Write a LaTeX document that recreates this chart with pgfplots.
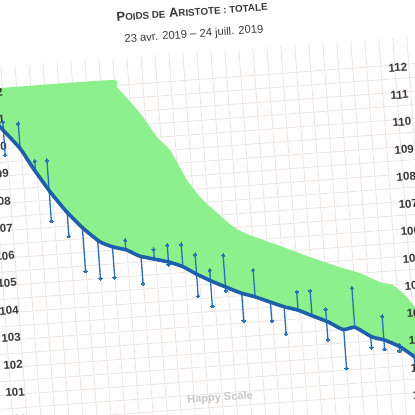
\documentclass[border=0pt]{standalone}
\usepackage{pgfplots}
\usepackage{pgfplotstable}
\pgfplotsset{compat=1.18}
\usepgfplotslibrary{fillbetween}
\usepackage{fontspec}
\setmainfont{Liberation Sans}
\definecolor{gfill}{HTML}{8CF08C}
\definecolor{tline}{HTML}{1E5FAA}
\definecolor{stemc}{HTML}{2A6EB4}
\definecolor{gridc}{HTML}{EDE2E2}
\definecolor{lab}{HTML}{383838}
\newcommand\smc{\fontsize{9.8}{10}\selectfont}

\pgfplotstableread{
X V
-15 111.94
9.9 110.80
28.3 109.96
39.8 109.21
55.1 108.30
70.2 107.52
85.3 106.88
101.2 106.34
113.8 106.12
127.3 105.97
140.1 105.71
167.5 105.43
182.2 105.21
195.3 104.90
211.0 104.58
224.3 104.34
237.2 104.11
251.8 103.92
266.4 103.69
280.9 103.47
293.7 103.32
308.3 103.06
322.8 102.81
337.2 102.49
349.2 102.54
365.3 102.15
378.3 101.99
392.7 101.71
407.0 101.29
440 100.2
}\trend

\pgfplotstableread{
X V
-15 112.21
123.0 112.21
129.5 111.93
150.5 110.93
165.8 110.00
177.7 109.50
192.5 108.36
207.1 107.58
235.3 106.53
251.3 106.18
283.5 105.66
309.6 105.22
338.8 104.77
358.2 104.50
377.6 104.12
390.2 103.98
403.4 103.50
410.6 103.12
440 102.2
}\upper

\pgfplotstableread{
X T M
13.0 110.66 110.97
13.0 110.66 109.76
28.3 109.96 110.87
42.0 109.08 109.46
54.2 108.35 109.45
54.2 108.35 107.23
70.5 107.51 106.63
84.6 106.91 105.31
98.9 106.42 105.01
113.2 106.13 105.00
126.3 105.98 106.33
141.0 105.70 104.71
154.1 105.57 105.92
168.0 105.42 106.04
168.0 105.42 105.33
182.0 105.21 106.02
195.1 104.90 105.62
195.1 104.90 104.10
208.5 104.63 105.01
208.5 104.63 103.70
223.0 104.36 105.52
223.0 104.36 104.22
238.7 104.09 103.08
251.8 103.92 104.90
266.7 103.69 103.00
280.0 103.48 102.48
293.7 103.32 103.99
307.2 103.08 103.99
321.3 102.84 103.28
321.3 102.84 102.17
337.8 102.49 101.07
349.0 102.54 103.98
364.2 102.18 101.76
377.1 102.00 102.87
377.1 102.00 101.67
391.9 101.73 101.78
391.9 101.73 101.56
406.0 101.32 100.85
}\stems

\pgfplotsset{
  common/.style={
    x={(0.9973pt,0.0732pt)}, y={(-2.002pt,27.276pt)},
    disabledatascaling,
    xmin=-15, xmax=440, ymin=98.5, ymax=113,
    axis line style={draw=none},
    tick style={draw=none},
    ytick={100,...,112},
    /pgf/number format/assume math mode=true,
    yticklabel style={rotate=4.2, inner sep=0pt, text=lab,
      font=\bfseries\fontsize{11.5}{12}\selectfont},
    clip mode=individual,
  }
}

\begin{document}
\begin{tikzpicture}
\begin{axis}[common,
  xtick={1.2,15.23,...,440}, xticklabels={},
  minor y tick num=1,
  grid=both,
  major grid style={gridc, line width=0.8pt},
  minor grid style={gridc, line width=0.8pt},
  yticklabel pos=left,
  yticklabel style={anchor=east, shift={(30.3pt,2.23pt)}},
]
\addplot[name path=up, draw=none, smooth, tension=0.35] table[x=X, y=V] {\upper};
\addplot[name path=tr, draw=none, smooth, tension=0.35] table[x=X, y=V] {\trend};
\addplot[gfill] fill between[of=up and tr];
\addplot[stemc, line width=1.3pt, only marks, mark=*, mark size=1.7pt,
  mark options={fill=stemc, draw=stemc, line width=0pt},
  error bars/.cd, y dir=both, y explicit,
  error mark=none, error bar style={stemc, line width=1.3pt}]
  table[x=X, y=M,
    y error plus expr={max(\thisrow{T}-\thisrow{M},0)},
    y error minus expr={max(\thisrow{M}-\thisrow{T},0)}] {\stems};
\addplot[tline, line width=3.6pt, line join=round, line cap=round, smooth, tension=0.35]
  table[x=X, y=V] {\trend};
\coordinate (DO) at (axis cs:0,0);
\node[rotate=4.2, text=lab, font=\bfseries\fontsize{13}{14}\selectfont]
  at (axis cs:209.8,114.5) {P{\smc OIDS DE} A{\smc RISTOTE : TOTALE}};
\node[rotate=4.2, text=lab, font=\fontsize{11.2}{12}\selectfont]
  at (axis cs:210.1,113.64) {23 avr. 2019 – 24 juill. 2019};
\node[rotate=4.2, text=black!22, font=\bfseries\fontsize{11}{12}\selectfont]
  at (axis cs:209.5,100.32) {Happy Scale};
\end{axis}
\begin{axis}[common,
  xtick=\empty,
  yticklabel pos=right,
  yticklabel style={anchor=west, shift={(-38.40pt,-2.82pt)}},
]
\end{axis}
\pgfresetboundingbox
\path[use as bounding box] ([shift={(-212pt,3149.8pt)}]DO) rectangle ([shift={(203pt,2734.8pt)}]DO);
\end{tikzpicture}
\end{document}
